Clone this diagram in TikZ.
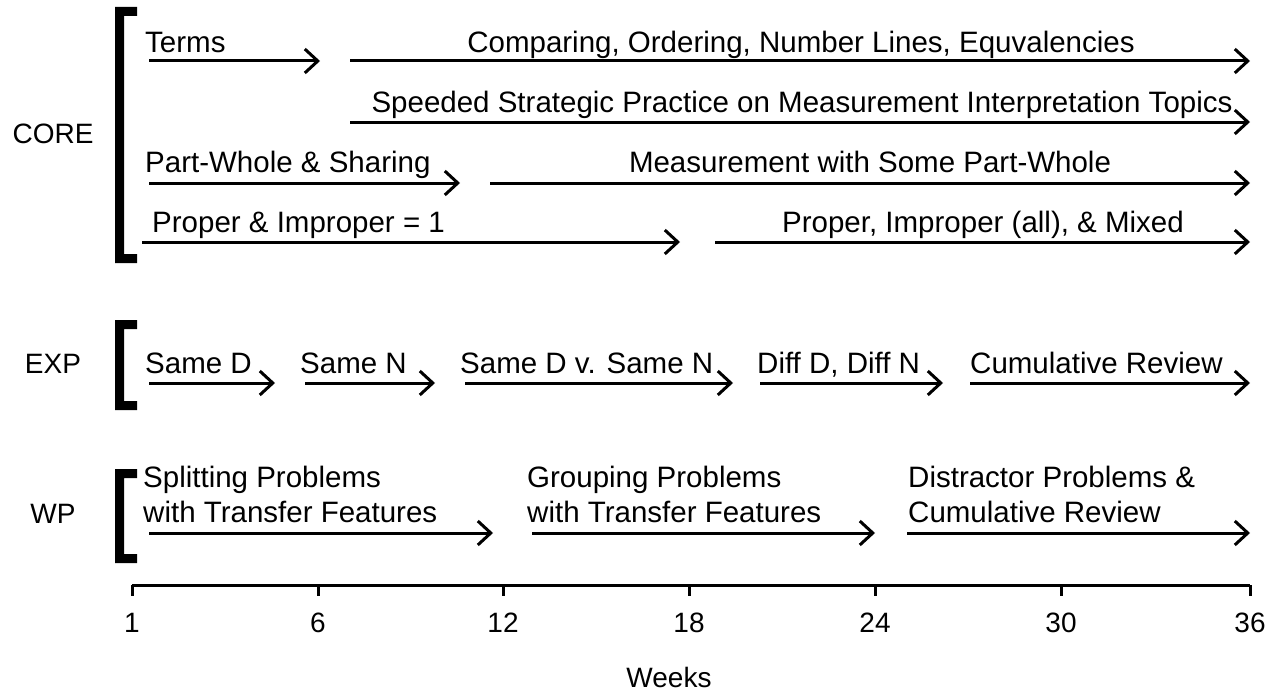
\documentclass[tikz,border=0pt]{standalone}
\usepackage{fontspec}
\setmainfont{Liberation Sans}
\usetikzlibrary{arrows.meta}
\newcommand\mybrk[2]{\fill (115,#1) -- (137,#1) -- (137,#1+9) -- (124,#1+9) -- (124,#2-9) -- (137,#2-9) -- (137,#2) -- (115,#2) -- cycle;}
\begin{document}
\begin{tikzpicture}[x=1pt,y=-1pt,
 lbl/.style={inner sep=0pt, font=\fontsize{29.5}{35}\selectfont, anchor=base west},
 clbl/.style={lbl, anchor=base},
 glbl/.style={inner sep=0pt, font=\fontsize{28}{34}\selectfont, anchor=base},
 arr/.style={line width=3pt, -{Straight Barb[length=13pt,width=24pt,line width=3pt]}},
 axisline/.style={line width=3pt}]
\useasboundingbox (0,0) rectangle (1275,693);
% brackets
\mybrk{7}{263}
\mybrk{320}{410}
\mybrk{469}{563}
% group labels
\node[glbl] (core) at (53,143) {CORE};
\node[glbl] (exp) at (53,373) {EXP};
\node[glbl] (wp) at (53,523) {WP};
% CORE row 1
\coordinate (r1as) at (149,61); \coordinate (r1ae) at (320,61);
\coordinate (r1bs) at (350,61); \coordinate (r1be) at (1250,61);
\draw[arr] (r1as) -- (r1ae);
\draw[arr] (r1bs) -- (r1be);
\node[lbl] (terms) at (145,53) {Terms};
\node[clbl] (comp) at (801,53) {Comparing, Ordering, Number Lines, Equvalencies};
% CORE row 2
\coordinate (r2s) at (350,122); \coordinate (r2e) at (1250,122);
\draw[arr] (r2s) -- (r2e);
\node[clbl] (speed) at (802,112) {Speeded Strategic Practice on Measurement Interpretation Topics};
% CORE row 3
\coordinate (r3as) at (149,183); \coordinate (r3ae) at (460,183);
\coordinate (r3bs) at (490,183); \coordinate (r3be) at (1250,183);
\draw[arr] (r3as) -- (r3ae);
\draw[arr] (r3bs) -- (r3be);
\node[lbl] (pw) at (145,172) {Part-Whole \& Sharing};
\node[clbl] (meas) at (870,172) {Measurement with Some Part-Whole};
% CORE row 4
\coordinate (r4as) at (142,242); \coordinate (r4ae) at (680,242);
\coordinate (r4bs) at (715,242); \coordinate (r4be) at (1250,242);
\draw[arr] (r4as) -- (r4ae);
\draw[arr] (r4bs) -- (r4be);
\node[lbl] (pi) at (152,232) {Proper \& Improper = 1};
\node[clbl] (pim) at (983,232) {Proper, Improper (all), \& Mixed};
% EXP row
\coordinate (e1s) at (149,383); \coordinate (e1e) at (275,383);
\coordinate (e2s) at (305,383); \coordinate (e2e) at (435,383);
\coordinate (e3s) at (465,383); \coordinate (e3e) at (733,383);
\coordinate (e4s) at (760,383); \coordinate (e4e) at (943,383);
\coordinate (e5s) at (970,383); \coordinate (e5e) at (1250,383);
\draw[arr] (e1s) -- (e1e);
\draw[arr] (e2s) -- (e2e);
\draw[arr] (e3s) -- (e3e);
\draw[arr] (e4s) -- (e4e);
\draw[arr] (e5s) -- (e5e);
\node[lbl] (sd) at (145,373) {Same D};
\node[lbl] (sn) at (300,373) {Same N};
\node[lbl] (sdsn) at (460,373) {Same D v. Same N};
\node[lbl] (dd) at (757,373) {Diff D, Diff N};
\node[lbl] (cr) at (970,373) {Cumulative Review};
% WP row
\coordinate (w1s) at (149,533); \coordinate (w1e) at (493,533);
\coordinate (w2s) at (532,533); \coordinate (w2e) at (875,533);
\coordinate (w3s) at (907,533); \coordinate (w3e) at (1250,533);
\draw[arr] (w1s) -- (w1e);
\draw[arr] (w2s) -- (w2e);
\draw[arr] (w3s) -- (w3e);
\node[lbl] (sp1) at (143,487) {Splitting Problems};
\node[lbl] (sp2) at (143,522) {with Transfer Features};
\node[lbl] (gp1) at (527,487) {Grouping Problems};
\node[lbl] (gp2) at (527,522) {with Transfer Features};
\node[lbl] (dp1) at (908,487) {Distractor Problems \&};
\node[lbl] (dp2) at (908,522) {Cumulative Review};
% axis
\coordinate (ax0) at (132,585); \coordinate (ax1) at (1250,585);
\draw[axisline] (ax0) -- (ax1);
\foreach \xx/\lab in {132/1, 318/6, 503/12, 689/18, 875/24, 1061/30, 1250/36}{
  \draw[axisline] (\xx,585) -- (\xx,596);
  \node[glbl] (t\lab) at (\xx,632) {\lab};
}
\node[glbl] (weeks) at (669,687) {Weeks};
\end{tikzpicture}
\end{document}
